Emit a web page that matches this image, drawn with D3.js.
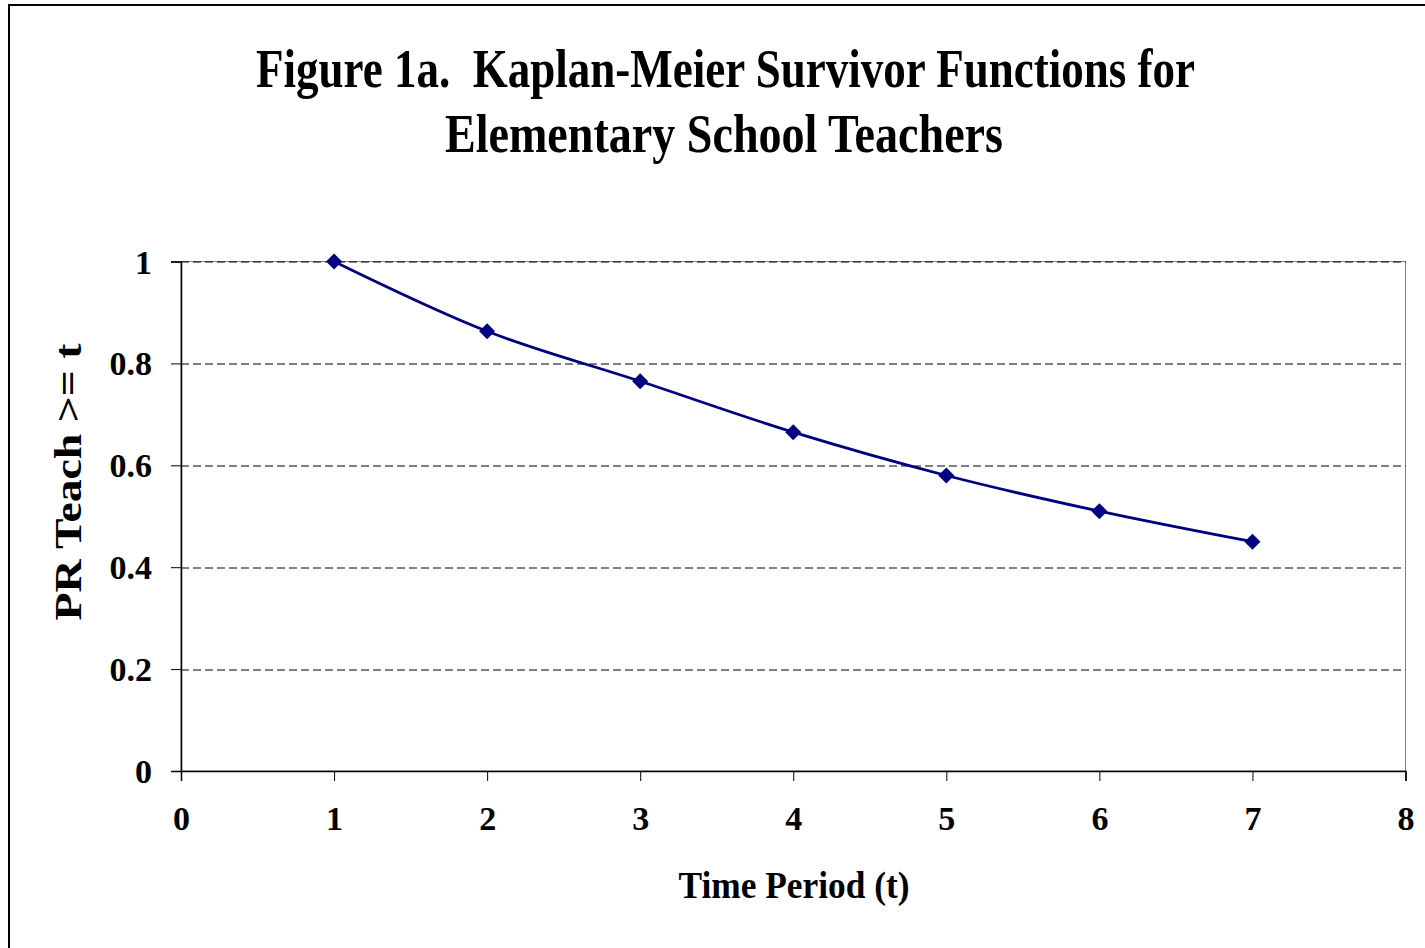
<!DOCTYPE html>
<html>
<head>
<meta charset="utf-8">
<script src="https://cdn.jsdelivr.net/npm/d3@7"></script>
<style>
  body { margin: 0; background: #fff; }
  text { font-family: "Liberation Serif", "Times New Roman", serif; font-weight: bold; fill: #000; }
</style>
</head>
<body>
<div id="chart"></div>
<script>
// Kaplan-Meier survivor function, elementary school teachers

let periods = [1, 2, 3, 4, 5, 6, 7];
let survival = [1.0, 0.863, 0.765, 0.665, 0.580, 0.510, 0.450];
let xTicks = [0, 1, 2, 3, 4, 5, 6, 7, 8];
let yTicks = [0, 0.2, 0.4, 0.6, 0.8, 1];
let titleLines = ["Figure 1a.\u00a0 Kaplan-Meier Survivor Functions for", "Elementary School Teachers"];

let svgWidth = 1425;
let svgHeight = 948;

let margin = { top: 261.5, right: 20, bottom: 177, left: 181 };
let width = 1405.5 - margin.left;
let height = 771 - margin.top;

let svg = d3.select("#chart")
    .append("svg")
    .attr("width", svgWidth)
    .attr("height", svgHeight);

// outer chart border (runs off the right/bottom edge)
svg.append("rect")
    .attr("x", 9).attr("y", 5)
    .attr("width", 1440).attr("height", 980)
    .attr("fill", "none")
    .attr("stroke", "#000")
    .attr("stroke-width", 2);

let chartGroup = svg.append("g")
    .attr("transform", `translate(${margin.left},${margin.top})`);

let xScale = d3.scaleLinear().domain([0, 8]).range([0, width]);
let yScale = d3.scaleLinear().domain([0, 1]).range([height, 0]);

// plot area border
chartGroup.append("rect")
    .attr("x", 0).attr("y", 0)
    .attr("width", width).attr("height", height)
    .attr("fill", "none")
    .attr("stroke", "#808080")
    .attr("stroke-width", 1);

// gridlines
chartGroup.selectAll(".grid")
    .data(yTicks.filter(d => d > 0))
    .enter()
    .append("line")
    .attr("x1", 0).attr("x2", width)
    .attr("y1", d => Math.round(yScale(d)) + 0.5)
    .attr("y2", d => Math.round(yScale(d)) + 0.5)
    .attr("stroke", "#000")
    .attr("stroke-width", 1)
    .attr("stroke-dasharray", "8,4");

// axes
let leftAxis = d3.axisLeft(yScale).tickValues(yTicks).tickSize(10).tickPadding(19)
    .tickFormat(d => d3.format("")(d));
let bottomAxis = d3.axisBottom(xScale).tickValues(xTicks).tickSize(10).tickPadding(22)
    .tickFormat(d3.format("d"));

let yAxisG = chartGroup.append("g").call(leftAxis);
let xAxisG = chartGroup.append("g")
    .attr("transform", `translate(0, ${height})`)
    .call(bottomAxis);

[yAxisG, xAxisG].forEach(g => {
    g.select(".domain").attr("stroke", "#000").attr("stroke-width", 1.5);
    g.selectAll(".tick line").attr("stroke", "#000").attr("stroke-width", 1);
    g.selectAll(".tick text")
        .attr("font-family", "Liberation Serif, Times New Roman, serif")
        .attr("font-weight", "bold")
        .attr("font-size", "34px")
        .attr("fill", "#000");
});
yAxisG.selectAll(".tick text").attr("dy", "0.34em");
xAxisG.selectAll(".tick text").attr("dy", "0.8em");

// survival line, smoothed like the original
let points = periods.map((p, i) => [p, survival[i]]);
let line = d3.line()
    .x(d => xScale(d[0]))
    .y(d => yScale(d[1]))
    .curve(d3.curveCardinal);

chartGroup.append("path")
    .datum(points)
    .attr("d", line)
    .attr("fill", "none")
    .attr("stroke", "#000080")
    .attr("stroke-width", 2.8);

// diamond markers
chartGroup.selectAll(".marker")
    .data(points)
    .enter()
    .append("path")
    .attr("d", "M0,-8L8,0L0,8L-8,0Z")
    .attr("transform", d => `translate(${xScale(d[0])},${yScale(d[1])})`)
    .attr("fill", "#000080");

// title
svg.append("text")
    .attr("x", 725.5).attr("y", 87)
    .attr("text-anchor", "middle")
    .attr("font-size", "54px")
    .attr("textLength", 939)
    .attr("lengthAdjust", "spacingAndGlyphs")
    .text(titleLines[0]);

svg.append("text")
    .attr("x", 724).attr("y", 152)
    .attr("text-anchor", "middle")
    .attr("font-size", "54px")
    .attr("textLength", 558)
    .attr("lengthAdjust", "spacingAndGlyphs")
    .text(titleLines[1]);

// axis titles
svg.append("text")
    .attr("x", 794).attr("y", 898)
    .attr("text-anchor", "middle")
    .attr("font-size", "38px")
    .attr("textLength", 231)
    .attr("lengthAdjust", "spacingAndGlyphs")
    .text("Time Period (t)");

svg.append("text")
    .attr("transform", "translate(81, 482) rotate(-90)")
    .attr("text-anchor", "middle")
    .attr("font-size", "38px")
    .attr("textLength", 277)
    .attr("lengthAdjust", "spacingAndGlyphs")
    .text("PR Teach >= t");
</script>
</body>
</html>
